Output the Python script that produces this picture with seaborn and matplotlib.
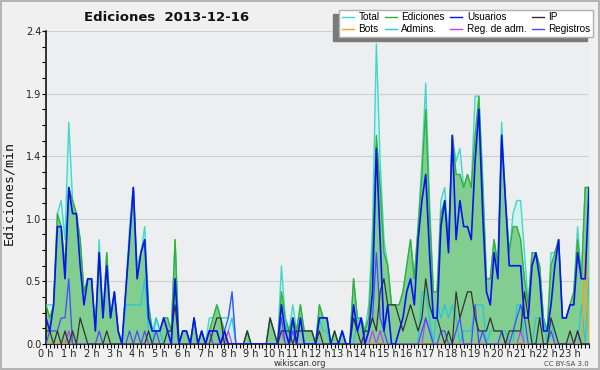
import matplotlib
matplotlib.use("Agg")
import matplotlib.pyplot as plt
from matplotlib.lines import Line2D
from matplotlib.patches import Rectangle
from matplotlib.ticker import FixedLocator, MultipleLocator
import numpy as np
import pandas as pd
import seaborn as sns

# Ediciones/min, un punto cada 10 minutos (144 puntos, 0 h -> 23 h 50)
total = [
    0.3, 0.3, 0.3, 1.0, 1.1, 0.8, 1.7, 1.1, 1.0, 0.8, 0.4, 0.5,
    0.5, 0.1, 0.8, 0.2, 0.7, 0.2, 0.4, 0.1, 0.0, 0.4, 0.9, 1.2,
    0.6, 0.7, 0.9, 0.3, 0.1, 0.2, 0.1, 0.2, 0.2, 0.1, 0.8, 0.0,
    0.1, 0.1, 0.0, 0.2, 0.0, 0.1, 0.0, 0.2, 0.2, 0.3, 0.2, 0.2,
    0.2, 0.4, 0.0, 0.0, 0.0, 0.1, 0.0, 0.0, 0.0, 0.0, 0.0, 0.2,
    0.1, 0.0, 0.6, 0.2, 0.1, 0.3, 0.1, 0.3, 0.1, 0.1, 0.1, 0.0,
    0.3, 0.2, 0.2, 0.0, 0.1, 0.0, 0.1, 0.0, 0.0, 0.5, 0.2, 0.2,
    0.1, 0.3, 0.9, 2.3, 1.4, 0.8, 0.6, 0.3, 0.3, 0.3, 0.4, 0.6,
    0.8, 0.5, 0.9, 1.4, 2.0, 1.1, 0.4, 0.4, 1.1, 1.2, 0.8, 1.6,
    1.4, 1.5, 1.2, 1.3, 1.2, 1.9, 1.9, 1.3, 0.5, 0.5, 0.8, 0.6,
    1.7, 1.1, 0.7, 1.0, 1.1, 1.1, 0.7, 0.3, 0.7, 0.7, 0.6, 0.2,
    0.1, 0.7, 0.7, 0.8, 0.2, 0.2, 0.3, 0.4, 0.9, 0.5, 1.2, 1.2,
]
ediciones = [
    0.3, 0.2, 0.3, 1.0, 0.9, 0.6, 1.2, 1.1, 1.0, 0.8, 0.4, 0.5,
    0.5, 0.1, 0.7, 0.2, 0.7, 0.2, 0.4, 0.1, 0.0, 0.4, 0.8, 1.2,
    0.5, 0.7, 0.8, 0.3, 0.1, 0.1, 0.1, 0.2, 0.2, 0.1, 0.8, 0.0,
    0.1, 0.1, 0.0, 0.2, 0.0, 0.1, 0.0, 0.1, 0.2, 0.3, 0.2, 0.1,
    0.0, 0.0, 0.0, 0.0, 0.0, 0.1, 0.0, 0.0, 0.0, 0.0, 0.0, 0.2,
    0.1, 0.0, 0.4, 0.2, 0.1, 0.2, 0.1, 0.3, 0.1, 0.1, 0.1, 0.0,
    0.3, 0.2, 0.2, 0.0, 0.1, 0.0, 0.1, 0.0, 0.0, 0.5, 0.2, 0.2,
    0.1, 0.2, 0.7, 1.6, 1.2, 0.7, 0.6, 0.3, 0.3, 0.3, 0.4, 0.6,
    0.8, 0.5, 0.9, 1.3, 1.8, 1.0, 0.4, 0.4, 1.0, 1.1, 0.8, 1.6,
    1.3, 1.3, 1.2, 1.3, 1.2, 1.6, 1.9, 1.2, 0.5, 0.5, 0.8, 0.6,
    1.6, 1.1, 0.7, 0.9, 0.9, 0.8, 0.5, 0.3, 0.7, 0.7, 0.6, 0.2,
    0.1, 0.6, 0.7, 0.8, 0.2, 0.2, 0.3, 0.4, 0.8, 0.5, 1.2, 1.2,
]
usuarios = [
    0.2, 0.1, 0.3, 0.9, 0.9, 0.5, 1.2, 1.0, 1.0, 0.6, 0.3, 0.5,
    0.5, 0.1, 0.7, 0.2, 0.6, 0.2, 0.4, 0.1, 0.0, 0.4, 0.8, 1.2,
    0.5, 0.7, 0.8, 0.2, 0.1, 0.1, 0.1, 0.2, 0.1, 0.0, 0.5, 0.0,
    0.1, 0.1, 0.0, 0.2, 0.0, 0.1, 0.0, 0.1, 0.1, 0.1, 0.0, 0.1,
    0.0, 0.0, 0.0, 0.0, 0.0, 0.0, 0.0, 0.0, 0.0, 0.0, 0.0, 0.0,
    0.0, 0.0, 0.3, 0.1, 0.0, 0.2, 0.0, 0.2, 0.0, 0.0, 0.0, 0.0,
    0.2, 0.2, 0.2, 0.0, 0.0, 0.0, 0.1, 0.0, 0.0, 0.3, 0.1, 0.2,
    0.0, 0.1, 0.4, 1.5, 0.8, 0.1, 0.3, 0.0, 0.0, 0.1, 0.2, 0.4,
    0.5, 0.3, 0.8, 1.1, 1.3, 0.7, 0.2, 0.2, 0.9, 1.1, 0.7, 1.6,
    0.8, 1.1, 0.9, 0.9, 0.8, 1.4, 1.8, 1.0, 0.4, 0.3, 0.7, 0.5,
    1.6, 1.1, 0.6, 0.6, 0.6, 0.6, 0.2, 0.2, 0.6, 0.7, 0.5, 0.1,
    0.1, 0.3, 0.6, 0.8, 0.2, 0.2, 0.3, 0.3, 0.7, 0.5, 0.5, 1.2,
]
ip = [
    0.1, 0.1, 0.0, 0.1, 0.0, 0.1, 0.0, 0.1, 0.0, 0.2, 0.1, 0.0,
    0.0, 0.0, 0.0, 0.0, 0.1, 0.0, 0.0, 0.0, 0.0, 0.0, 0.0, 0.0,
    0.0, 0.0, 0.0, 0.1, 0.0, 0.0, 0.0, 0.0, 0.1, 0.1, 0.3, 0.0,
    0.0, 0.0, 0.0, 0.0, 0.0, 0.0, 0.0, 0.0, 0.1, 0.2, 0.2, 0.0,
    0.0, 0.0, 0.0, 0.0, 0.0, 0.1, 0.0, 0.0, 0.0, 0.0, 0.0, 0.2,
    0.1, 0.0, 0.1, 0.1, 0.1, 0.0, 0.1, 0.1, 0.1, 0.1, 0.1, 0.0,
    0.1, 0.0, 0.0, 0.0, 0.1, 0.0, 0.0, 0.0, 0.0, 0.2, 0.1, 0.0,
    0.1, 0.1, 0.2, 0.1, 0.4, 0.5, 0.3, 0.3, 0.3, 0.2, 0.1, 0.2,
    0.3, 0.2, 0.1, 0.2, 0.5, 0.3, 0.2, 0.2, 0.1, 0.0, 0.1, 0.0,
    0.4, 0.2, 0.3, 0.4, 0.4, 0.2, 0.1, 0.1, 0.1, 0.2, 0.1, 0.1,
    0.1, 0.0, 0.1, 0.1, 0.1, 0.1, 0.4, 0.2, 0.0, 0.0, 0.2, 0.0,
    0.0, 0.2, 0.1, 0.0, 0.0, 0.0, 0.1, 0.0, 0.1, 0.0, 0.0, 0.0,
]
bots = [
    0.0, 0.0, 0.0, 0.0, 0.0, 0.0, 0.0, 0.0, 0.0, 0.0, 0.0, 0.0,
    0.0, 0.0, 0.0, 0.0, 0.0, 0.0, 0.0, 0.0, 0.0, 0.0, 0.0, 0.0,
    0.0, 0.0, 0.0, 0.0, 0.0, 0.0, 0.0, 0.0, 0.0, 0.0, 0.0, 0.0,
    0.0, 0.0, 0.0, 0.0, 0.0, 0.0, 0.0, 0.0, 0.0, 0.0, 0.0, 0.0,
    0.0, 0.0, 0.0, 0.0, 0.0, 0.0, 0.0, 0.0, 0.0, 0.0, 0.0, 0.0,
    0.0, 0.0, 0.0, 0.0, 0.0, 0.0, 0.0, 0.0, 0.0, 0.0, 0.0, 0.0,
    0.0, 0.0, 0.0, 0.0, 0.0, 0.0, 0.0, 0.0, 0.0, 0.0, 0.0, 0.0,
    0.0, 0.0, 0.0, 0.0, 0.0, 0.0, 0.0, 0.0, 0.0, 0.0, 0.0, 0.0,
    0.0, 0.0, 0.0, 0.0, 0.0, 0.0, 0.0, 0.0, 0.0, 0.0, 0.0, 0.0,
    0.0, 0.0, 0.0, 0.0, 0.0, 0.0, 0.0, 0.0, 0.0, 0.0, 0.0, 0.0,
    0.0, 0.0, 0.0, 0.0, 0.0, 0.0, 0.0, 0.0, 0.0, 0.0, 0.0, 0.0,
    0.0, 0.0, 0.0, 0.0, 0.0, 0.0, 0.0, 0.0, 0.0, 0.0, 0.7, 0.0,
]
admins = [
    0.0, 0.0, 0.0, 0.0, 0.0, 0.0, 0.0, 0.0, 0.0, 0.0, 0.0, 0.0,
    0.0, 0.0, 0.0, 0.0, 0.0, 0.0, 0.0, 0.0, 0.0, 0.3, 0.3, 0.3,
    0.3, 0.3, 0.5, 0.1, 0.0, 0.2, 0.1, 0.0, 0.0, 0.0, 0.0, 0.0,
    0.0, 0.0, 0.0, 0.0, 0.0, 0.0, 0.0, 0.0, 0.0, 0.0, 0.0, 0.0,
    0.1, 0.2, 0.0, 0.0, 0.0, 0.0, 0.0, 0.0, 0.0, 0.0, 0.0, 0.0,
    0.0, 0.0, 0.2, 0.2, 0.0, 0.1, 0.0, 0.0, 0.0, 0.0, 0.0, 0.0,
    0.2, 0.1, 0.1, 0.0, 0.0, 0.0, 0.1, 0.0, 0.0, 0.0, 0.2, 0.2,
    0.0, 0.0, 0.0, 0.0, 0.1, 0.1, 0.0, 0.0, 0.0, 0.0, 0.0, 0.0,
    0.0, 0.0, 0.0, 0.4, 0.4, 0.2, 0.0, 0.3, 0.2, 0.3, 0.2, 0.3,
    0.2, 0.0, 0.1, 0.1, 0.1, 0.3, 0.3, 0.3, 0.0, 0.1, 0.1, 0.1,
    0.1, 0.1, 0.0, 0.0, 0.3, 0.3, 0.0, 0.0, 0.0, 0.2, 0.2, 0.2,
    0.0, 0.2, 0.0, 0.0, 0.0, 0.0, 0.0, 0.0, 0.0, 0.3, 0.0, 0.5,
]
reg_adm = [
    0.0, 0.0, 0.0, 0.0, 0.0, 0.0, 0.1, 0.0, 0.0, 0.0, 0.0, 0.0,
    0.0, 0.0, 0.0, 0.0, 0.0, 0.0, 0.0, 0.0, 0.0, 0.0, 0.0, 0.0,
    0.0, 0.0, 0.0, 0.0, 0.0, 0.0, 0.0, 0.0, 0.0, 0.0, 0.0, 0.0,
    0.0, 0.0, 0.0, 0.0, 0.0, 0.0, 0.0, 0.0, 0.0, 0.0, 0.0, 0.0,
    0.1, 0.0, 0.0, 0.0, 0.0, 0.0, 0.0, 0.0, 0.0, 0.0, 0.0, 0.0,
    0.0, 0.0, 0.1, 0.0, 0.0, 0.0, 0.0, 0.0, 0.0, 0.0, 0.0, 0.0,
    0.0, 0.0, 0.0, 0.0, 0.0, 0.0, 0.0, 0.0, 0.0, 0.0, 0.0, 0.0,
    0.0, 0.0, 0.1, 0.0, 0.1, 0.0, 0.0, 0.0, 0.0, 0.0, 0.0, 0.0,
    0.0, 0.0, 0.0, 0.0, 0.2, 0.1, 0.0, 0.0, 0.0, 0.0, 0.0, 0.0,
    0.0, 0.0, 0.0, 0.0, 0.0, 0.0, 0.0, 0.0, 0.0, 0.0, 0.0, 0.0,
    0.0, 0.0, 0.0, 0.0, 0.0, 0.1, 0.0, 0.0, 0.0, 0.0, 0.0, 0.0,
    0.0, 0.0, 0.0, 0.0, 0.0, 0.0, 0.0, 0.0, 0.0, 0.0, 0.0, 0.0,
]
registros = [
    0.0, 0.1, 0.1, 0.1, 0.2, 0.2, 0.5, 0.0, 0.0, 0.0, 0.0, 0.0,
    0.0, 0.0, 0.1, 0.0, 0.0, 0.0, 0.0, 0.0, 0.0, 0.0, 0.1, 0.0,
    0.1, 0.0, 0.1, 0.0, 0.0, 0.1, 0.0, 0.0, 0.0, 0.0, 0.0, 0.0,
    0.0, 0.0, 0.0, 0.0, 0.0, 0.0, 0.0, 0.1, 0.0, 0.0, 0.0, 0.1,
    0.2, 0.4, 0.0, 0.0, 0.0, 0.0, 0.0, 0.0, 0.0, 0.0, 0.0, 0.0,
    0.0, 0.0, 0.2, 0.0, 0.0, 0.1, 0.0, 0.0, 0.0, 0.0, 0.0, 0.0,
    0.0, 0.0, 0.0, 0.0, 0.0, 0.0, 0.0, 0.0, 0.0, 0.0, 0.0, 0.0,
    0.0, 0.1, 0.2, 0.7, 0.2, 0.1, 0.0, 0.0, 0.0, 0.0, 0.0, 0.0,
    0.0, 0.0, 0.0, 0.1, 0.2, 0.1, 0.0, 0.0, 0.1, 0.1, 0.0, 0.0,
    0.1, 0.2, 0.0, 0.0, 0.0, 0.3, 0.0, 0.1, 0.0, 0.0, 0.0, 0.0,
    0.1, 0.0, 0.0, 0.1, 0.2, 0.3, 0.2, 0.0, 0.0, 0.0, 0.0, 0.0,
    0.0, 0.1, 0.0, 0.0, 0.0, 0.0, 0.0, 0.0, 0.1, 0.0, 0.0, 0.0,
]

hour_labels = [f"{h} h" for h in range(24)]
y_ticks = [0.0, 0.48, 0.96, 1.44, 1.92, 2.4]

# nombre, datos, color, grosor, orden de dibujo
series = [
    ("Total", total, "#3fd8cb", 1.0, 3),
    ("Ediciones", ediciones, "#33b035", 1.0, 4),
    ("Usuarios", usuarios, "#0a14ee", 1.2, 8),
    ("IP", ip, "#333333", 0.9, 7),
    ("Bots", bots, "#ff9a1a", 0.9, 6),
    ("Admins.", admins, "#22c8e0", 0.9, 5),
    ("Reg. de adm.", reg_adm, "#c23ff0", 0.9, 5),
    ("Registros", registros, "#4a4aff", 0.9, 6),
]

idx = np.arange(len(total))
df = pd.DataFrame({name: vals for name, vals, *_ in series})
df["t"] = idx

fig = plt.figure(figsize=(6, 3.7), dpi=100, facecolor="#f0f0f0")
fig.patches.append(Rectangle((0.001, 0.002), 0.997, 0.995, transform=fig.transFigure,
                             fill=False, edgecolor="#a8a8a8", lw=1.2))
ax = fig.add_axes([46 / 600, 26 / 370, 543 / 600, 313 / 370])
ax.set_facecolor("#edeef0")

ax.fill_between(df["t"], df["Total"], color="#d2f1ee", zorder=1, lw=0)
ax.fill_between(df["t"], df["Ediciones"], color="#33aa33", alpha=0.5, zorder=2, lw=0)

for name, vals, color, lw, z in series:
    sns.lineplot(data=df, x="t", y=name, color=color, lw=lw, ax=ax,
                 errorbar=None, zorder=z, legend=False)

ax.set_xlim(0, len(total) - 1)
ax.set_ylim(0, 2.4)
ax.set_xlabel("")
ax.set_ylabel("")
ax.xaxis.set_major_locator(FixedLocator(np.arange(0, 144, 6)))
ax.set_xticklabels(hour_labels)
ax.xaxis.set_minor_locator(MultipleLocator(1))
ax.yaxis.set_major_locator(FixedLocator(y_ticks))
ax.set_yticklabels([f"{v:.1f}" for v in y_ticks])
ax.yaxis.set_minor_locator(MultipleLocator(0.12))
ax.tick_params(axis="both", which="both", direction="out", length=3, width=0.8,
               color="black", labelsize=7, pad=0.5, labelcolor="#222222")
ax.grid(axis="y", which="major", color="#cfcfcf", lw=0.8, zorder=0)
ax.set_axisbelow(True)
for s in ["top", "right"]:
    ax.spines[s].set_visible(False)
for s in ["left", "bottom"]:
    ax.spines[s].set_color("black")
    ax.spines[s].set_linewidth(1.1)

fig.text(0.278, 0.954, "Ediciones  2013-12-16", fontsize=9.5, fontweight="bold",
         ha="center", va="center", color="#111111")
fig.text(0.015, 0.478, "Ediciones/min", rotation=90, fontsize=9.5,
         family="DejaVu Sans Mono", ha="center", va="center", color="#111111")
fig.text(0.5, 0.017, "wikiscan.org", fontsize=6, ha="center", va="center", color="#333333")
fig.text(0.982, 0.017, "CC BY-SA 3.0", fontsize=5, ha="right", va="center", color="#444444")

# leyenda: matplotlib rellena por columnas
orden = [0, 4, 1, 5, 2, 6, 3, 7]
handles = [Line2D([], [], color=series[k][2], lw=1.0) for k in orden]
labels = [series[k][0] for k in orden]
fig.legend(handles, labels, ncol=4, loc="upper right",
           bbox_to_anchor=(593 / 600, 1 - 10 / 370),
           prop={"family": "Liberation Sans", "size": 7.2}, frameon=True,
           fancybox=False, edgecolor="#b0b0b0", facecolor="white", framealpha=1,
           borderpad=0.25, labelspacing=0.15, handlelength=1.2, handletextpad=0.45,
           columnspacing=0.55, borderaxespad=0,
           shadow={"ox": -4.5, "oy": -3, "facecolor": "#7a7a7a",
                   "edgecolor": "#7a7a7a", "alpha": 1})

fig.savefig("out.png", dpi=100, facecolor=fig.get_facecolor())
